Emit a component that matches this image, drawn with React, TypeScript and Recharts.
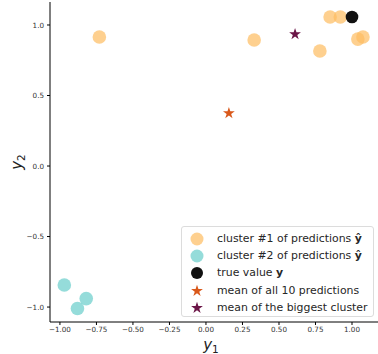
import React from 'react';
import {
  ScatterChart,
  Scatter,
  XAxis,
  YAxis,
} from 'recharts';

// cluster #1 (the big one)
const cluster1X = [-0.73, 0.33, 0.78, 0.85, 0.92, 1.04, 1.075];
const cluster1Y = [0.915, 0.894, 0.816, 1.057, 1.057, 0.9, 0.915];
// cluster #2
const cluster2X = [-0.97, -0.88, -0.82];
const cluster2Y = [-0.844, -1.01, -0.94];
// true value
const trueX = [1.0];
const trueY = [1.057];
// means
const meanAllX = [0.157];
const meanAllY = [0.38];
const meanBigX = [0.61];
const meanBigY = [0.94];

const xTicks = [-1, -0.75, -0.5, -0.25, 0, 0.25, 0.5, 0.75, 1];
const yTicks = [-1, -0.5, 0, 0.5, 1];

const toPts = (xs: number[], ys: number[]) => xs.map((x, i) => ({ x, y: ys[i] }));

const FONT = '"DejaVu Sans", sans-serif';
const PEACH = '#fdbc5f';
const TEAL = '#68cdca';
const BLACK = '#111111';
const ORANGE = '#d9581a';
const PURPLE = '#6b1547';

const starPath = (cx: number, cy: number, R: number) => {
  const r = R * 0.382;
  let d = '';
  for (let i = 0; i < 10; i++) {
    const rad = i % 2 === 0 ? R : r;
    const a = -Math.PI / 2 + (i * Math.PI) / 5;
    d += (i === 0 ? 'M' : 'L') + (cx + rad * Math.cos(a)).toFixed(2) + ',' + (cy + rad * Math.sin(a)).toFixed(2);
  }
  return d + 'Z';
};

const circleShape = (fill: string, r: number, opacity: number) => (props: any) => (
  <circle cx={props.cx} cy={props.cy} r={r} fill={fill} fillOpacity={opacity} />
);

const starShape = (fill: string) => (props: any) => (
  <path d={starPath(props.cx, props.cy + 0.8, 6.2)} fill={fill} />
);

const fmtMinus = (s: string) => s.replace('-', '\u2212');

const legendItems = [
  { kind: 'circle', color: PEACH, opacity: 0.7, label: 'cluster #1 of predictions ', bold: '\u0177' },
  { kind: 'circle', color: TEAL, opacity: 0.7, label: 'cluster #2 of predictions ', bold: '\u0177' },
  { kind: 'circle', color: BLACK, opacity: 1, label: 'true value ', bold: 'y' },
  { kind: 'star', color: ORANGE, opacity: 1, label: 'mean of all 10 predictions', bold: '' },
  { kind: 'star', color: PURPLE, opacity: 1, label: 'mean of the biggest cluster', bold: '' },
];

const LegendBox = () => (
  <div
    style={{
      position: 'absolute',
      left: 181,
      top: 226,
      width: 193,
      height: 91,
      border: '1px solid #dcdcdc',
      borderRadius: 3,
      background: 'rgba(255,255,255,0.8)',
      boxSizing: 'border-box',
      padding: '3px 0 0 6px',
      fontFamily: FONT,
      fontSize: 10.9,
      color: '#262626',
    }}
  >
    {legendItems.map((it, i) => (
      <div key={i} style={{ height: 17.2, display: 'flex', alignItems: 'center', whiteSpace: 'nowrap' }}>
        <svg width={20} height={16} style={{ marginRight: 9 }}>
          {it.kind === 'circle' ? (
            <circle cx={9} cy={8} r={it.color === BLACK ? 6 : 6.5} fill={it.color} fillOpacity={it.opacity} />
          ) : (
            <path d={starPath(9, 9, 6.2)} fill={it.color} />
          )}
        </svg>
        <span>
          {it.label}
          {it.bold && <b>{it.bold}</b>}
        </span>
      </div>
    ))}
  </div>
);

export default function App() {
  return (
    <div style={{ position: 'absolute', left: 0, top: 0, width: 378, height: 354, background: '#fff' }}>
      <ScatterChart
        width={378}
        height={354}
        margin={{ top: 2, right: 0, bottom: 0, left: 0 }}
      >
        <XAxis
          xAxisId="top"
          orientation="top"
          type="number"
          dataKey="x"
          domain={[-1.068, 1.178]}
          height={0}
          tick={false}
          tickLine={false}
          axisLine={{ stroke: '#000', strokeWidth: 1 }}
        />
        <XAxis
          type="number"
          dataKey="x"
          domain={[-1.068, 1.178]}
          ticks={xTicks}
          allowDataOverflow
          height={32}
          tickSize={3}
          tickMargin={2}
          tickLine={{ stroke: '#000' }}
          axisLine={{ stroke: '#000', strokeWidth: 1 }}
          tick={{ fontSize: 7.2, fill: '#333', fontFamily: FONT }}
          tickFormatter={(v: number) => fmtMinus(v.toFixed(2))}
          label={(props: any) => {
            const vb = props.viewBox;
            return (
              <text x={vb.x + vb.width / 2 - 3} y={vb.y + 28} textAnchor="middle" fontFamily={FONT} fontSize={15} fill="#222">
                <tspan fontStyle="italic">y</tspan>
                <tspan fontSize={10.5} dy={3}>1</tspan>
              </text>
            );
          }}
        />
        <YAxis
          type="number"
          dataKey="y"
          domain={[-1.106, 1.163]}
          ticks={yTicks}
          allowDataOverflow
          width={50}
          tickSize={3}
          tickMargin={3}
          tickLine={{ stroke: '#000' }}
          axisLine={{ stroke: '#000', strokeWidth: 1 }}
          tick={{ fontSize: 7.2, fill: '#333', fontFamily: FONT }}
          tickFormatter={(v: number) => fmtMinus(v.toFixed(1))}
          label={(props: any) => {
            const vb = props.viewBox;
            const cx = 22;
            const cy = vb.y + vb.height / 2;
            return (
              <text x={cx} y={cy} textAnchor="middle" fontFamily={FONT} fontSize={15} fill="#222" transform={`rotate(-90, ${cx}, ${cy})`}>
                <tspan fontStyle="italic">y</tspan>
                <tspan fontSize={10.5} dy={3}>2</tspan>
              </text>
            );
          }}
        />
        <Scatter name="c1" data={toPts(cluster1X, cluster1Y)} shape={circleShape(PEACH, 6.8, 0.7)} isAnimationActive={false} />
        <Scatter name="c2" data={toPts(cluster2X, cluster2Y)} shape={circleShape(TEAL, 6.8, 0.7)} isAnimationActive={false} />
        <Scatter name="true" data={toPts(trueX, trueY)} shape={circleShape(BLACK, 6.3, 1)} isAnimationActive={false} />
        <Scatter name="meanAll" data={toPts(meanAllX, meanAllY)} shape={starShape(ORANGE)} isAnimationActive={false} />
        <Scatter name="meanBig" data={toPts(meanBigX, meanBigY)} shape={starShape(PURPLE)} isAnimationActive={false} />
      </ScatterChart>
      <LegendBox />
    </div>
  );
}
